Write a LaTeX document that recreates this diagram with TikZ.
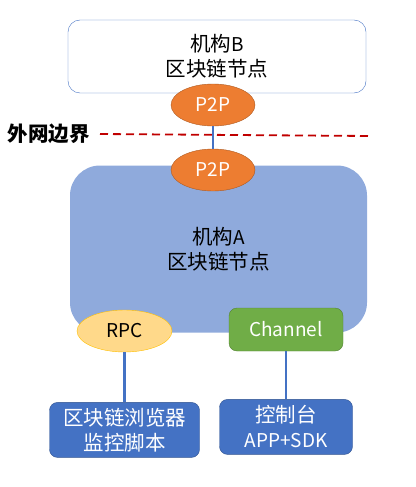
\documentclass[tikz,border=0pt]{standalone}
\usepackage{fontspec}
\setmainfont{Noto Sans CJK SC}
\usetikzlibrary{shapes.geometric,positioning}
\definecolor{nodeblue}{HTML}{4472C4}
\definecolor{nodeedge}{HTML}{2F528F}
\definecolor{orgblue}{HTML}{8FAADC}
\definecolor{p2porange}{HTML}{ED7D31}
\definecolor{p2pedge}{HTML}{AE5A21}
\definecolor{rpcfill}{HTML}{FFD98A}
\definecolor{rpcedge}{HTML}{FFC000}
\definecolor{chgreen}{HTML}{70AD47}
\definecolor{chedge}{HTML}{548235}
\definecolor{borderred}{HTML}{C00000}
\newcommand{\bigtxt}{\fontsize{19}{25}\selectfont}
\newcommand{\zh}[1]{{\fontsize{20.5}{25}\selectfont #1}}

\begin{document}
\begin{tikzpicture}[x=1pt,y=-1pt,node distance=2cm,
  org/.style = {rounded corners=12pt,align=center,inner sep=0,font=\bigtxt},
  port/.style = {ellipse,draw=p2pedge,fill=p2porange,text=white,minimum width=84pt,minimum height=42pt,inner sep=0,font=\bigtxt},
  tool/.style = {rounded corners=8pt,draw=nodeedge,fill=nodeblue,text=white,align=center,inner sep=0,minimum height=55pt,font=\bigtxt},
  link/.style = {draw=nodeblue,line width=2.5pt}]
    \useasboundingbox (0,0) rectangle (415,487);
    \node[org,draw=nodeblue,fill=white,minimum width=298pt,minimum height=73pt](orgB) at (217,56.5){\zh{机构}B\\\zh{区块链节点}};
    \node[org,rounded corners=30pt,fill=orgblue,minimum width=297pt,minimum height=167pt](orgA) at (218.5,249){\zh{机构}A\\\zh{区块链节点}};
    % boundary of the outer network
    \coordinate (bndL) at (100,134);
    \coordinate (bndR) at (369,136);
    \draw[borderred,line width=1.8pt,dash pattern=on 8pt off 5pt] (bndL) -- (bndR);
    \node[font=\bigtxt\bfseries](bnd) at (48.5,134){\zh{外网边界}};
    \node[port](p2pB) at (213,105){P2P};
    \node[port](p2pA) at (213,170){P2P};
    \node[ellipse,draw=rpcedge,fill=rpcfill,minimum width=95pt,minimum height=42pt,inner sep=0,font=\bigtxt](rpc) at (124.5,331){RPC};
    \node[rounded corners=8pt,draw=chedge,fill=chgreen,text=white,minimum width=114pt,minimum height=43pt,inner sep=0,font=\bigtxt](channel) at (286,329.5){Channel};
    \node[tool,minimum width=150pt,below=50pt of rpc](browser){\zh{区块链浏览器}\\\zh{监控脚本}};
    \node[tool,minimum width=133pt,below=48pt of channel](console){\zh{控制台}\\APP+SDK};
    \path[link] (p2pB) edge (p2pA)
                (rpc) edge (browser)
                (channel) edge (console);
\end{tikzpicture}
\end{document}
